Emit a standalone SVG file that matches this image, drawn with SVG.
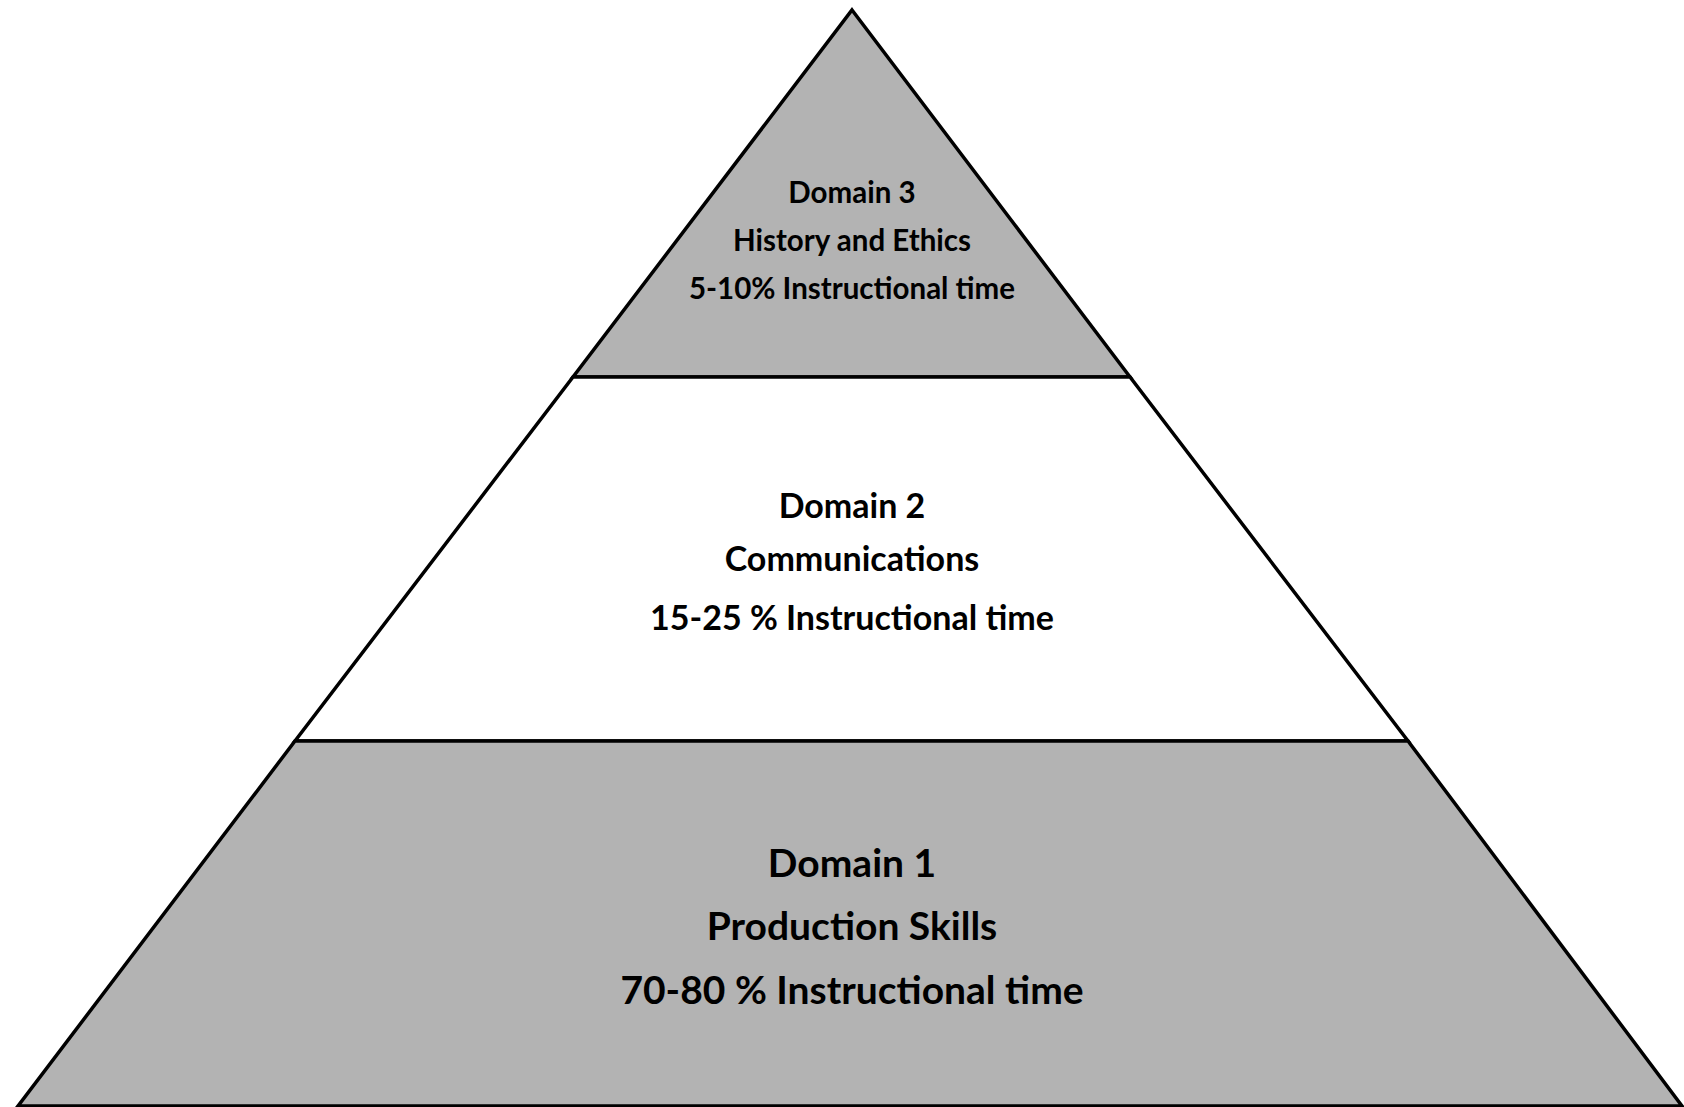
<svg xmlns="http://www.w3.org/2000/svg" width="1684" height="1107" viewBox="0 0 1684 1107">
<style>
.tier{stroke:#000;stroke-width:3.5;stroke-linejoin:miter}
.g{fill:#b3b3b3}
.w{fill:#fff}
text{font-family:Lato,"Open Sans","Liberation Sans",sans-serif;font-weight:bold;fill:#000;text-anchor:middle}
.t3{font-size:29.5px}
.t2{font-size:34px}
.t1{font-size:39px}
</style>
<rect width="1684" height="1107" fill="#fff"/>
<g id="tier3">
<polygon class="tier g" points="852,10 1130,377 573,377"/>
<text class="t3" x="852" y="203">Domain 3</text>
<text class="t3" x="852" y="251">History and Ethics</text>
<text class="t3" x="852" y="299">5-10% Instructional time</text>
</g>
<g id="tier2">
<polygon class="tier w" points="573,377 1130,377 1408,741 295,741"/>
<text class="t2" x="852" y="518">Domain 2</text>
<text class="t2" x="852" y="571">Communications</text>
<text class="t2" x="852" y="630">15-25 % Instructional time</text>
</g>
<g id="tier1">
<polygon class="tier g" points="295,741 1408,741 1682,1106 18,1106"/>
<text class="t1" x="852" y="877">Domain 1</text>
<text class="t1" x="852" y="940">Production Skills</text>
<text class="t1" x="852" y="1004">70-80 % Instructional time</text>
</g>
<g id="connectors"/>
</svg>
